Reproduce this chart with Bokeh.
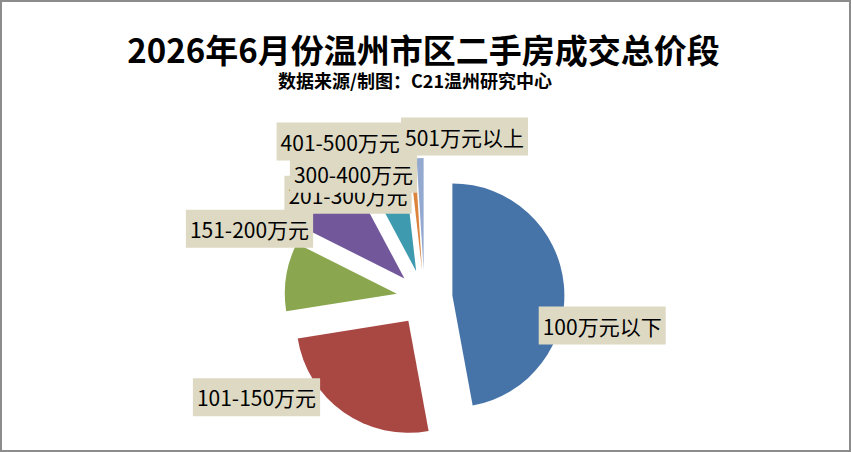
import numpy as np
from bokeh.plotting import figure
from bokeh.models import ColumnDataSource, Range1d, Label
from bokeh.core.properties import value
from bokeh.embed import file_html
from bokeh.resources import INLINE

# ---- data ----
categories = ["100万元以下", "101-150万元", "151-200万元", "201-300万元",
              "300-400万元", "401-500万元", "501万元以上"]
shares = [47.1, 25.4, 9.9, 9.8, 6.0, 0.8, 1.0]
colors = ["#4674A9", "#A94843", "#8AA64E", "#72589A", "#3E9AAF", "#DB843D", "#93A9CF"]

title_text = "2026年6月份温州市区二手房成交总价段"
subtitle_text = "数据来源/制图：C21温州研究中心"

# ---- layout (pixel positions, y measured from the top) ----
W, H = 851, 452
pie_center = (424, 297.5)
pie_radius = 112
explode = 28
label_pos = [(601.7, 325), (256, 396.7), (249, 228.3), (347.5, 194.3),
             (353, 173.3), (339.7, 141), (464, 136)]


def to_data(px, py):
    return px, H - py


frac = np.array(shares, dtype=float)
frac = frac / frac.sum()
a_end = np.cumsum(frac) * 2 * np.pi          # clockwise from 12 o'clock
a_start = a_end - frac * 2 * np.pi
a_mid = (a_start + a_end) / 2

cx, cy = to_data(*pie_center)
src = ColumnDataSource(dict(
    x=cx + explode * np.sin(a_mid),
    y=cy + explode * np.cos(a_mid),
    start=np.pi / 2 - a_end,
    end=np.pi / 2 - a_start,
    color=colors,
    cat=categories,
))

lx, ly = zip(*[to_data(*pt) for pt in label_pos])
lsrc = ColumnDataSource(dict(x=list(lx), y=list(ly), cat=categories))

p = figure(width=W, height=H, x_range=Range1d(0, W), y_range=Range1d(0, H),
           output_backend="svg", toolbar_location=None, min_border=0,
           x_axis_type=None, y_axis_type=None)
p.grid.visible = False
p.outline_line_color = "#8C8C8C"
p.outline_line_width = 3
p.background_fill_color = "white"
p.border_fill_color = "white"

p.wedge(x="x", y="y", radius=pie_radius, radius_units="screen",
        start_angle="start", end_angle="end", fill_color="color",
        line_color=None, source=src)

p.text(x="x", y="y", text="cat", source=lsrc,
       text_font=value("Noto Sans CJK SC"), text_font_size="21px",
       text_color="black", text_align="center", text_baseline="middle",
       background_fill_color="#DDD9C3", padding=4)

tx, ty = to_data(423, 48)
p.add_layout(Label(x=tx, y=ty, text=title_text, text_align="center",
                   text_baseline="middle", text_font="Noto Sans CJK SC",
                   text_font_size="33px", text_font_style="bold",
                   text_color="black"))
sx, sy = to_data(414.5, 79)
p.add_layout(Label(x=sx, y=sy, text=subtitle_text, text_align="center",
                   text_baseline="middle", text_font="Noto Sans CJK SC",
                   text_font_size="18px", text_font_style="bold",
                   text_color="black"))

open("out.html", "w").write(file_html(p, INLINE))
